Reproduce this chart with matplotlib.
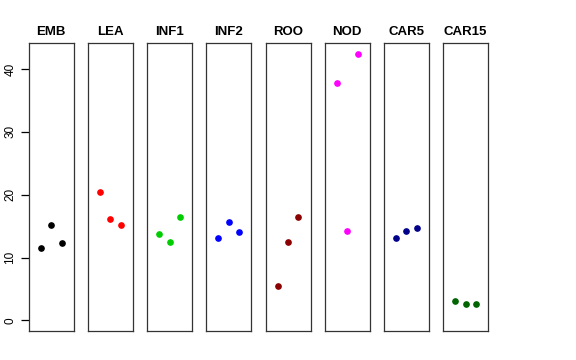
import matplotlib
matplotlib.use("Agg")
from matplotlib import pyplot as plt

plt.rcParams['font.family'] = ['Liberation Sans', 'DejaVu Sans']

# data
tissues = ["EMB", "LEA", "INF1", "INF2", "ROO", "NOD", "CAR5", "CAR15"]
emb = [11.5, 15.1, 12.3]
lea = [20.4, 16.2, 15.2]
inf1 = [13.8, 12.5, 16.5]
inf2 = [13.1, 15.6, 14.0]
roo = [5.5, 12.5, 16.4]
nod = [37.8, 14.3, 42.45]
car5 = [13.1, 14.3, 14.7]
car15 = [3.1, 2.6, 2.65]
values = [emb, lea, inf1, inf2, roo, nod, car5, car15]
colors = ["black", "red", "#00CD00", "blue", "#8B0000", "magenta", "#00008B", "#006400"]
replicate = [1, 2, 3]
y_ticks = [0, 10, 20, 30, 40]

fig = plt.figure(figsize=(5.76, 3.6), dpi=100)

ymax = max(max(v) for v in values)
ypad = 0.04 * ymax
left0, step, width = 28.7 / 576, 59.2 / 576, 45 / 576

for i, name in enumerate(tissues):
    ax = fig.add_axes([left0 + i * step, 29 / 360, width, 288 / 360])
    ax.plot(replicate, values[i], 'o', color=colors[i], markersize=3.8, linestyle='none')
    ax.set_xlim(-0.16, 4.16)
    ax.set_ylim(-ypad, ymax + ypad)
    ax.set_xticks([])
    ax.set_title(name, fontsize=9.5, fontweight='bold', pad=6)
    for s in ax.spines.values():
        s.set_color('#333333')
        s.set_linewidth(0.9)
    if i == 0:
        ax.set_yticks(y_ticks)
        ax.set_yticklabels([str(t) for t in y_ticks], rotation=90, va='center', fontsize=8.5)
        ax.tick_params(axis='y', length=6, width=0.9, pad=3)
    else:
        ax.set_yticks([])

fig.savefig("out.png", dpi=100)
